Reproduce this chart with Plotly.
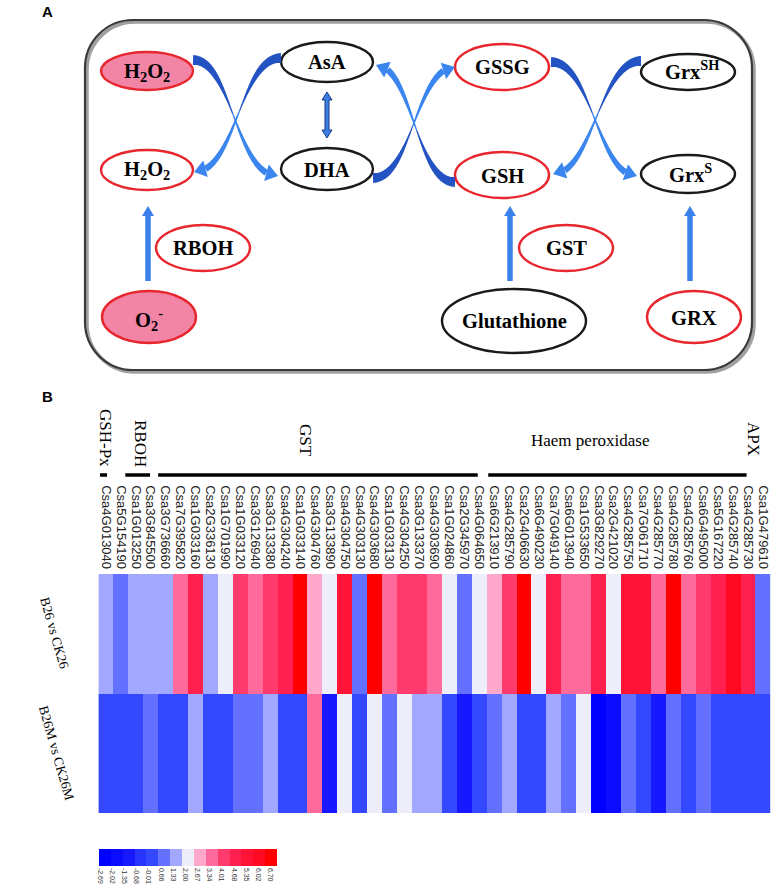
import numpy as np
import plotly.graph_objects as go

W, H = 771, 888

# ---------------- data ----------------
genes = ["Csa4G013040", "Csa5G154190", "Csa1G013250", "Csa3G845500", "Csa3G736660",
         "Csa7G395820", "Csa1G033160", "Csa2G336130", "Csa1G701990", "Csa1G033120",
         "Csa3G126940", "Csa3G133380", "Csa4G304240", "Csa1G033140", "Csa4G304760",
         "Csa3G133890", "Csa4G304750", "Csa4G303130", "Csa4G303680", "Csa1G033130",
         "Csa4G304250", "Csa3G133370", "Csa4G303690", "Csa1G024860", "Csa2G345970",
         "Csa4G064650", "Csa6G213910", "Csa4G285790", "Csa2G406630", "Csa6G490230",
         "Csa7G049140", "Csa6G013940", "Csa1G533650", "Csa3G829270", "Csa2G421020",
         "Csa4G285750", "Csa7G061710", "Csa4G285770", "Csa4G285780", "Csa4G285760",
         "Csa6G495000", "Csa5G167220", "Csa4G285740", "Csa4G285730", "Csa1G479610"]
comparisons = ["B26 vs CK26", "B26M vs CK26M"]
b26_vs_ck26 = [1.67, 0.99, 1.67, 1.67, 1.67, 3.68, 5.02, 1.67, 2.34, 4.35,
               3.68, 4.35, 5.02, 7.03, 3.00, 2.34, 5.69, 0.99, 7.03, 3.68,
               4.35, 4.35, 3.68, 2.34, 0.99, 2.34, 3.00, 4.35, 7.03, 2.34,
               5.02, 3.68, 3.68, 5.02, 2.34, 5.69, 5.69, 3.68, 7.03, 3.68,
               4.35, 5.02, 6.36, 5.02, 0.99]
b26m_vs_ck26m = [0.33, 0.33, 0.33, 0.99, 0.33, 0.33, 1.67, 0.33, 0.33, 0.99,
                 0.99, 1.67, 0.33, 0.33, 3.68, -1.02, 2.34, 0.33, 2.34, 0.99,
                 2.34, 1.67, 1.67, 0.33, -1.02, 0.33, 0.99, 1.67, 0.33, 0.33,
                 1.67, 0.99, 2.34, -2.36, -1.69, 0.99, 0.33, -1.02, 0.99, 0.33,
                 0.99, 0.33, 0.33, 0.33, 0.33]
scale_labels = ["-2.69", "-2.02", "-1.35", "-0.68", "-0.01", "0.66", "1.33", "2.00",
                "2.67", "3.34", "4.01", "4.68", "5.35", "6.02", "6.70"]
block_colors = ["#0000ff", "#0b0bff", "#1818ff", "#2a34ff", "#3448ff", "#6470ff", "#a2a8ff",
                "#eeeefa", "#ffa8cc", "#ff6a9c", "#ff3a6c", "#ff2050", "#ff1438", "#ff0a22", "#ff0000"]
group_names = ["GSH-Px", "RBOH", "GST", "Haem peroxidase", "APX"]

# ---------------- helpers (pixel -> paper) ----------------
def X(px):
    return px / W


def Y(py):
    return 1 - py / H


def poly(points):
    return "M " + " L ".join(f"{X(x):.5f},{Y(y):.5f}" for x, y in points) + " Z"


shapes = []
annotations = []


def ellipse(cx, cy, rx, ry, line, fill="white", lw=2.4):
    shapes.append(dict(type="circle", xref="paper", yref="paper",
                       x0=X(cx - rx), x1=X(cx + rx), y0=Y(cy + ry), y1=Y(cy - ry),
                       line=dict(color=line, width=lw), fillcolor=fill, layer="above"))


def label(cx, cy, text, size=20.5, family="Liberation Serif", angle=0, bold=True, color="black"):
    annotations.append(dict(x=X(cx), y=Y(cy), xref="paper", yref="paper", showarrow=False,
                            text=(f"<b>{text}</b>" if bold else text), textangle=angle,
                            font=dict(family=family, size=size, color=color),
                            xanchor="center", yanchor="middle"))


def add_poly(points, color, line=None, lw=0):
    shapes.append(dict(type="path", xref="paper", yref="paper", path=poly(points),
                       fillcolor=color, line=dict(color=line or color, width=lw), layer="above"))


def curve_arrow(p0, p1, p2, p3, w0=10.0, wmin=1.2, w1=6.5, head_l=12, head_w=17,
                c_dark="#2352c2", c_light="#3a86ee"):
    p0, p1, p2, p3 = map(np.array, (p0, p1, p2, p3))
    ts = np.linspace(0, 1, 121)
    pts = np.array([(1 - t) ** 3 * p0 + 3 * (1 - t) ** 2 * t * p1 + 3 * (1 - t) * t ** 2 * p2 + t ** 3 * p3 for t in ts])
    seg = np.linalg.norm(np.diff(pts, axis=0), axis=1)
    cum = np.concatenate([[0], np.cumsum(seg)])
    Ls = cum[-1] - head_l
    idx = np.where(cum <= Ls)[0]
    sp = pts[idx]
    sc = cum[idx]
    left, right = [], []
    for i in range(len(sp)):
        if i < len(sp) - 1:
            d = sp[i + 1] - sp[i]
        else:
            d = sp[i] - sp[i - 1]
        d = d / np.linalg.norm(d)
        n = np.array([-d[1], d[0]])
        u = sc[i] / Ls
        if u < 0.5:
            w = wmin + (w0 - wmin) * (1 - u / 0.5) ** 1.4
        else:
            w = wmin + (w1 - wmin) * ((u - 0.5) / 0.5) ** 1.1
        left.append(tuple(sp[i] + n * w / 2))
        right.append(tuple(sp[i] - n * w / 2))
    m = int(np.searchsorted(sc, Ls * 0.5))
    add_poly(left[:m + 1] + right[:m + 1][::-1], c_dark)
    add_poly(left[m:] + right[m:][::-1], c_light)
    B = sp[-1]
    d = p3 - B
    d = d / np.linalg.norm(d)
    n = np.array([-d[1], d[0]])
    add_poly([tuple(B + n * head_w / 2), tuple(p3), tuple(B - n * head_w / 2)], c_light)


def up_arrow(x, y_tail, y_tip, sw=5.5, hw=12, hl=10, color="#3a80ea"):
    add_poly([(x - sw / 2, y_tail), (x - sw / 2, y_tip + hl), (x - hw / 2, y_tip + hl), (x, y_tip),
              (x + hw / 2, y_tip + hl), (x + sw / 2, y_tip + hl), (x + sw / 2, y_tail)], color)


def double_arrow(x, y_top, y_bot, sw=4, hw=10, hl=8, color="#3c7ee0"):
    add_poly([(x, y_top), (x + hw / 2, y_top + hl), (x + sw / 2, y_top + hl), (x + sw / 2, y_bot - hl),
              (x + hw / 2, y_bot - hl), (x, y_bot), (x - hw / 2, y_bot - hl), (x - sw / 2, y_bot - hl),
              (x - sw / 2, y_top + hl), (x - hw / 2, y_top + hl)], color, line="#1c3a8c", lw=1)


def rounded_box(x0, y0, x1, y1, r, color, width, dx=0, dy=0):
    k = 0.5523 * r
    x0, x1, y0, y1 = x0 + dx, x1 + dx, y0 + dy, y1 + dy
    p = lambda x, y: f"{X(x):.5f},{Y(y):.5f}"
    path = (f"M {p(x0 + r, y0)} L {p(x1 - r, y0)} C {p(x1 - r + k, y0)} {p(x1, y0 + r - k)} {p(x1, y0 + r)} "
            f"L {p(x1, y1 - r)} C {p(x1, y1 - r + k)} {p(x1 - r + k, y1)} {p(x1 - r, y1)} "
            f"L {p(x0 + r, y1)} C {p(x0 + r - k, y1)} {p(x0, y1 - r + k)} {p(x0, y1 - r)} "
            f"L {p(x0, y0 + r)} C {p(x0, y0 + r - k)} {p(x0 + r - k, y0)} {p(x0 + r, y0)} Z")
    shapes.append(dict(type="path", xref="paper", yref="paper", path=path,
                       line=dict(color=color, width=width), fillcolor="rgba(0,0,0,0)", layer="above"))


# ---------------- panel A : pathway diagram ----------------
RED, BLK, PINK = "#e8262e", "#1a1a1a", "#f284a6"
rounded_box(85, 20, 752, 370, 48, "#a0a0a0", 3.5, dx=2, dy=2)
rounded_box(85, 20, 752, 370, 48, "#3a3a3a", 2.2)

ellipse(147, 71, 46, 19, RED, PINK)
ellipse(327, 62, 46, 20, BLK)
ellipse(502, 67, 47, 23, RED)
ellipse(688, 72, 47, 18, BLK)
ellipse(147, 170, 46, 20, RED)
ellipse(327, 169, 46, 21, BLK)
ellipse(502, 175, 47, 23, RED)
ellipse(688, 174, 47, 19, BLK)
ellipse(203, 248, 47, 23, RED)
ellipse(566, 248, 47, 23, RED)
ellipse(149, 317, 47, 26, RED, PINK)
ellipse(514, 321, 72, 32, BLK)
ellipse(694, 317, 47, 26, RED)

curve_arrow((193, 60), (232, 60), (236, 176), (278, 176))
curve_arrow((281, 58), (240, 58), (236, 172), (194, 172))
curve_arrow((373, 178), (412, 178), (416, 68), (455, 67))
curve_arrow((455, 182), (416, 182), (412, 66), (376, 65))
curve_arrow((551, 62), (592, 62), (598, 176), (637, 176))
curve_arrow((641, 61), (600, 61), (592, 174), (553, 174))
double_arrow(327, 92, 138)
up_arrow(148, 281, 206)
up_arrow(510, 281, 206)
up_arrow(690, 281, 206)

label(147, 72, "H<sub>2</sub>O<sub>2</sub>")
label(327, 62, "AsA")
label(502, 67, "GSSG")
label(692, 70, "Grx<sup>SH</sup>")
label(147, 171, "H<sub>2</sub>O<sub>2</sub>")
label(327, 170, "DHA")
label(502, 176, "GSH")
label(690, 173, "Grx<sup>S</sup>")
label(203, 248, "RBOH")
label(566, 248, "GST")
label(149, 319, "O<sub>2</sub><sup>-</sup>")
label(514, 321, "Glutathione")
label(694, 318, "GRX")
label(47, 12, "A", size=15, family="Liberation Sans")

# ---------------- panel B : heatmap ----------------
label(47, 397, "B", size=15, family="Liberation Sans")

zmin = -2.69
zmax = zmin + 0.67 * len(block_colors)
cs = []
nb = len(block_colors)
for k, c in enumerate(block_colors):
    cs.append([k / nb, c])
    cs.append([(k + 1) / nb, c])

tick_pos = [zmin + (zmax - zmin) * (0.006 + k * 0.0683) for k in range(len(scale_labels))]

hm = go.Heatmap(
    z=[b26_vs_ck26, b26m_vs_ck26m], x=genes, y=comparisons,
    zmin=zmin, zmax=zmax, colorscale=cs,
    colorbar=dict(orientation="h", x=X(188), xanchor="center", y=Y(849), yanchor="top",
                  len=178 / W, lenmode="fraction", thickness=17, thicknessmode="pixels",
                  outlinewidth=0, tickvals=tick_pos, ticktext=scale_labels, ticks="",
                  tickangle=90, tickfont=dict(family="Liberation Sans", size=7, color="#333"),
                  xpad=0, ypad=0),
    hoverinfo="x+y+z")

fig = go.Figure(hm)

# group labels and bars above gene labels
group_spec = [  # name, center_px, center_py, angle
    (group_names[0], 105, 438, 90),
    (group_names[1], 140, 443, 90),
    (group_names[2], 306, 440, 90),
    (group_names[3], 590, 440, 0),
    (group_names[4], 754, 439, 90),
]
for name, cx, cy, ang in group_spec:
    label(cx, cy, name, size=17, family="Liberation Serif", angle=ang, bold=False)

for a, b in [(-0.39, 0.08), (1.3, 2.96), (3.5, 24.9), (25.6, 42.9)]:
    shapes.append(dict(type="line", xref="x", yref="paper", x0=a, x1=b, y0=Y(475), y1=Y(475),
                       line=dict(color="black", width=3.5), layer="above"))

label(55, 633, comparisons[0], size=13.5, family="Liberation Serif", angle=74, bold=False)
label(57, 753, comparisons[1], size=13.5, family="Liberation Serif", angle=74, bold=False)

fig.update_layout(
    width=W, height=H, margin=dict(l=0, r=0, t=0, b=0),
    paper_bgcolor="white", plot_bgcolor="white",
    shapes=shapes, annotations=annotations, showlegend=False,
    xaxis=dict(domain=[X(98.3), X(770.5)], side="top", tickangle=90, type="category",
               tickmode="array", tickvals=genes, ticktext=genes,
               showgrid=False, zeroline=False, ticks="", showline=False,
               tickfont=dict(family="Liberation Sans", size=13, color="#222"),
               ticklabelstandoff=2),
    yaxis=dict(domain=[Y(813), Y(574)], autorange="reversed", showticklabels=False,
               showgrid=False, zeroline=False, ticks=""),
)

fig.write_html("out.html", config={"displayModeBar": False},
               post_script="document.body.style.margin='0';document.body.style.overflow='hidden';")
